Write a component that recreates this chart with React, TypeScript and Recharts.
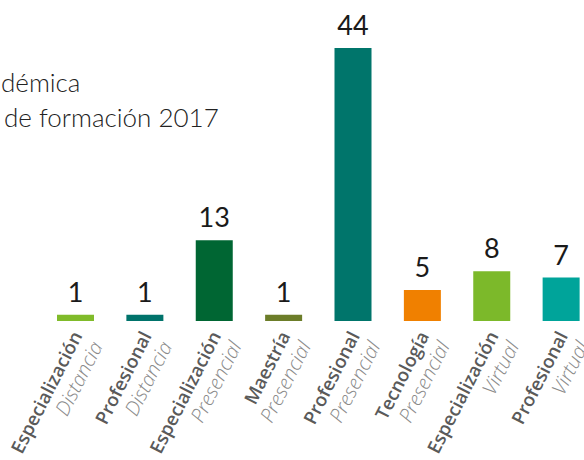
import React from 'react';
import { BarChart, Bar, XAxis, YAxis, Cell, LabelList } from 'recharts';

// Reference values
const programas = ['Especialización', 'Profesional', 'Especialización', 'Maestría', 'Profesional', 'Tecnología', 'Especialización', 'Profesional'];
const modalidades = ['Distancia', 'Distancia', 'Presencial', 'Presencial', 'Presencial', 'Presencial', 'Virtual', 'Virtual'];
const cantidades = [1, 1, 13, 1, 44, 5, 8, 7];
const tituloVisible = ['démica', 'de formación 2017'];

const barColors = ['#80bb2a', '#00736b', '#006633', '#6c7d29', '#00756b', '#f08000', '#7cb92a', '#00a49a'];

const data = programas.map((p, i) => ({ key: `${p}|${modalidades[i]}`, value: cantidades[i] }));

const ProgramTick = (props: any) => {
    const { x, y, payload } = props;
    const i = payload.index;
    return (
        <g transform={`translate(${x},${y})`}>
            <text transform="rotate(-63)" textAnchor="end" fontFamily="'Open Sans', sans-serif">
                <tspan x={0} dy={8} fontSize={18.5} fontWeight={600} fill="#5a5a5a">{programas[i]}</tspan>
                <tspan x={0} dy={23} fontSize={20} fontWeight={300} fontStyle="italic" fill="#8a8a8a">{modalidades[i]}</tspan>
            </text>
        </g>
    );
};

const App: React.FC = () => {
    return (
        <div style={{ position: 'absolute', left: 0, top: 0, width: 584, height: 460, overflow: 'hidden', background: '#fff' }}>
            <BarChart width={596} height={460} data={data} margin={{ top: 48, right: 0, left: 41, bottom: 0 }} barSize={37}>
                <XAxis dataKey="key" axisLine={false} tickLine={false} tickSize={0} tickMargin={11} height={139} interval={0} tick={<ProgramTick />} />
                <YAxis hide domain={[0, 44]} />
                <Bar dataKey="value" isAnimationActive={false}>
                    {data.map((d, i) => <Cell key={d.key} fill={barColors[i]} />)}
                    <LabelList dataKey="value" position="top" offset={13} fill="#1a1a1a" fontSize={27} fontFamily="Lato, sans-serif" />
                </Bar>
            </BarChart>
            <svg width={584} height={460} style={{ position: 'absolute', left: 0, top: 0, pointerEvents: 'none' }}>
                <text x={1} y={92} fontSize={26} fontWeight={300} fontFamily="Lato, sans-serif" fill="#222">{tituloVisible[0]}</text>
                <text x={4} y={127} fontSize={26} fontWeight={300} fontFamily="Lato, sans-serif" fill="#222">{tituloVisible[1]}</text>
            </svg>
        </div>
    );
};

export default App;
